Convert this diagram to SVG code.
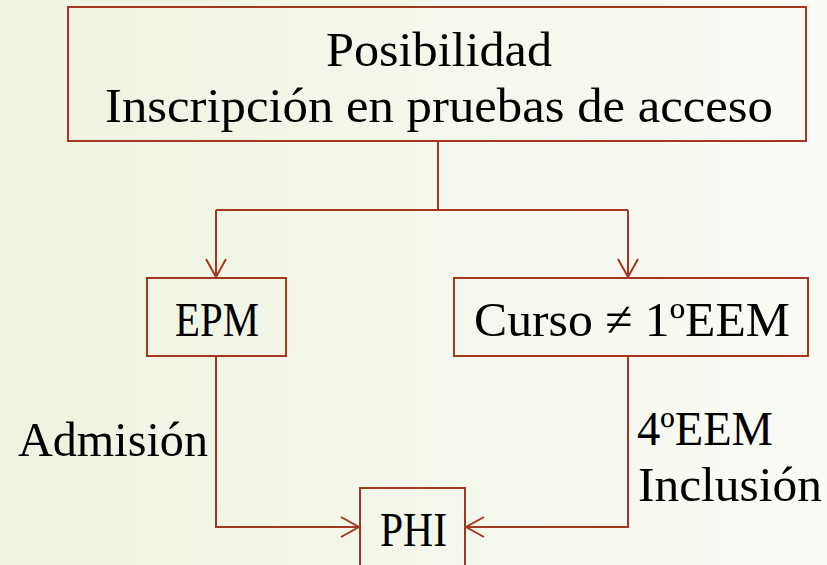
<svg xmlns="http://www.w3.org/2000/svg" width="827" height="565" viewBox="0 0 827 565">
<style>
.box{fill:none;stroke:#a4371f;stroke-width:2}
.con{fill:none;stroke:#a4371f;stroke-width:2}
text{font-family:"Liberation Serif","Times New Roman",serif;font-size:49px;fill:#000}
</style>
<defs>
<linearGradient id="bg" x1="0" y1="0" x2="1" y2="0">
<stop offset="0" stop-color="#eef3df"/>
<stop offset="1" stop-color="#fafbf6"/>
</linearGradient>
<marker id="ah" viewBox="0 0 22 22" refX="20" refY="11" markerWidth="22" markerHeight="22" markerUnits="userSpaceOnUse" orient="auto">
<path d="M2,1 L20,11 L2,21" fill="none" stroke="#a4371f" stroke-width="2"/>
</marker>
</defs>
<rect width="827" height="565" fill="url(#bg)"/>
<g id="connectors">
<path class="con" d="M438,141 V210 M216,210 H628"/>
<path class="con" d="M216,210 V277" marker-end="url(#ah)"/>
<path class="con" d="M628,210 V277" marker-end="url(#ah)"/>
<path class="con" d="M216,356 V527 H359" marker-end="url(#ah)"/>
<path class="con" d="M628,356 V527 H466" marker-end="url(#ah)"/>
<text x="18" y="456" textLength="190" lengthAdjust="spacingAndGlyphs">Admisión</text>
<text x="637" y="445" textLength="136" lengthAdjust="spacingAndGlyphs">4ºEEM</text>
<text x="638" y="501" textLength="184" lengthAdjust="spacingAndGlyphs">Inclusión</text>
</g>
<g id="top">
<rect class="box" x="68" y="7" width="738" height="134"/>
<text x="326" y="66" textLength="226" lengthAdjust="spacingAndGlyphs">Posibilidad</text>
<text x="105" y="122" textLength="668" lengthAdjust="spacingAndGlyphs">Inscripción en pruebas de acceso</text>
</g>
<g id="epm">
<rect class="box" x="147" y="278" width="139" height="78"/>
<text x="175" y="336" textLength="84" lengthAdjust="spacingAndGlyphs">EPM</text>
</g>
<g id="curso">
<rect class="box" x="454" y="278" width="354" height="78"/>
<text x="474" y="336" textLength="316" lengthAdjust="spacingAndGlyphs">Curso ≠ 1ºEEM</text>
</g>
<g id="phi">
<rect class="box" x="360" y="488" width="105" height="90"/>
<text x="380" y="546" textLength="67" lengthAdjust="spacingAndGlyphs">PHI</text>
</g>
</svg>
